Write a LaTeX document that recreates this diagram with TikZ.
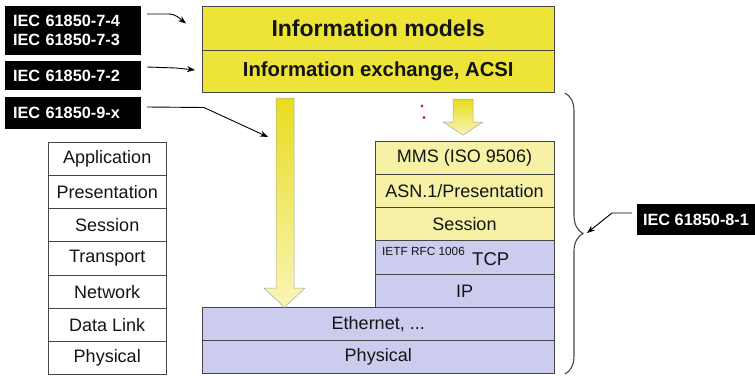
\documentclass[tikz,border=0pt]{standalone}
\usepackage{fontspec}
\setmainfont{Liberation Sans}
\usetikzlibrary{arrows.meta,decorations.pathreplacing}

\definecolor{topyellow}{RGB}{237,228,55}
\definecolor{stackyellow}{RGB}{246,241,165}
\definecolor{stackblue}{RGB}{204,204,238}
\definecolor{edgegray}{RGB}{70,70,70}
\definecolor{textgray}{RGB}{20,20,20}
\definecolor{arrowtop}{RGB}{232,220,30}
\definecolor{arrowbottom}{RGB}{249,246,185}
\definecolor{dotred}{RGB}{235,30,40}

\tikzset{
  layer/.style={draw=edgegray, line width=1pt, inner sep=0pt, outer sep=0pt,
    text=textgray, font=\fontsize{18}{20}\selectfont},
  osi/.style={layer, fill=white, minimum width=117.5pt, minimum height=33.2pt},
  upper/.style={layer, minimum width=179pt, minimum height=33.3pt},
  wide/.style={layer, fill=stackblue, minimum width=351.5pt, minimum height=33.2pt},
  tag/.style={fill=black, text=white, inner sep=0pt, outer sep=0pt,
    font=\bfseries\fontsize{16.3}{19}\selectfont},
  pointer/.style={draw=black, line width=0.9pt, -{Stealth[length=8pt,width=6pt]}},
  blockarrow/.style={top color=arrowtop, bottom color=arrowbottom, draw=gray!70, line width=0.5pt},
}

\begin{document}
\begin{tikzpicture}[x=1pt,y=-1pt]
\useasboundingbox (0,0) rectangle (755,375);

% IEC 61850 information models and ACSI
\node[layer, fill=topyellow, minimum width=351.5pt, minimum height=44pt,
  font=\bfseries\fontsize{23}{25}\selectfont] (models) at (378.25,28) {Information models};
\node[layer, fill=topyellow, minimum width=351.5pt, minimum height=42.5pt,
  font=\bfseries\fontsize{20.3}{22}\selectfont] (acsi) at (378.25,71.25) {Information exchange, ACSI};

% OSI reference model
\node[osi] (app)  at (107.25,158.9) {Application};
\node[osi] (pres) at (107.25,192.1) {Presentation};
\node[osi] (sess) at (107.25,225.3) {Session};
\node[osi] (tran) at (107.25,258.5) {Transport};
\node[osi] (net)  at (107.25,291.7) {Network};
\node[osi] (dl)   at (107.25,324.9) {Data Link};
\node[osi] (phy)  at (107.25,358.1) {Physical};

% MMS stack
\node[upper, fill=stackyellow] (mms)  at (464.5,157.65) {MMS (ISO 9506)};
\node[upper, fill=stackyellow] (asn)  at (464.5,190.95) {ASN.1/Presentation};
\node[upper, fill=stackyellow] (ses2) at (464.5,224.25) {Session};
\node[upper, fill=stackblue]   (tcp)  at (464.5,257.55) {};
\node[anchor=base west, inner sep=0pt, text=textgray, font=\fontsize{11.8}{12}\selectfont]
  (rfc) at (382,255.5) {IETF RFC 1006};
\node[anchor=base west, inner sep=0pt, text=textgray, font=\fontsize{18.5}{20}\selectfont]
  (tcpname) at (472,265.5) {TCP};
\node[upper, fill=stackblue]   (ip)   at (464.5,290.85) {IP};
\node[wide] (eth)  at (378.25,324.1) {Ethernet, ...};
\node[wide] (phy2) at (378.25,357.3) {Physical};

% mapping arrows
\draw[blockarrow] (276,98) -- (294,98) -- (294,288) -- (305,288) -- (284.5,307.5)
  -- (264,288) -- (276,288) -- cycle;
\draw[blockarrow] (453,99) -- (473,99) -- (473,122) -- (483,122) -- (463,135)
  -- (443,122) -- (453,122) -- cycle;
\fill[dotred] (422,106) circle (1.6pt) (424,117.5) circle (1.6pt);

% brace round the 8-1 stack
\draw[edgegray, line width=1.1pt, decorate, decoration={brace, amplitude=18pt}]
  (565,93) -- (565,374);
\coordinate (bracetip) at (587,233);

% standard part tags
\node[tag, minimum width=136pt, minimum height=49pt, text width=120pt, align=left]
  (t74) at (73,30.5) {IEC 61850-7-4\\IEC 61850-7-3};
\node[tag, minimum width=136pt, minimum height=29pt, text width=120pt, align=left]
  (t72) at (73,75.5) {IEC 61850-7-2};
\node[tag, minimum width=136pt, minimum height=32pt, text width=120pt, align=left]
  (t9x) at (73,112.5) {IEC 61850-9-x};
\node[tag, minimum width=118pt, minimum height=31pt] (t81) at (696,219.5) {IEC 61850-8-1};

% pointers from the tags
\coordinate (p74s) at (147,14);
\coordinate (p74e) at (186,23.5);
\coordinate (p72s) at (147,67);
\coordinate (p72e) at (195,70);
\coordinate (p9xs) at (147,107);
\coordinate (p9xe) at (268,137);
\coordinate (p81s) at (632,213);

\draw[pointer] (p74s) -- (168,14) .. controls (176,14) and (179,18) .. (p74e);
\draw[pointer] (p72s) -- (176,68) -- (p72e);
\draw[pointer] (p9xs) -- (204,107.5) -- (p9xe);
\draw[pointer] (p81s) -- (612,213) -- (bracetip);
\end{tikzpicture}
\end{document}
